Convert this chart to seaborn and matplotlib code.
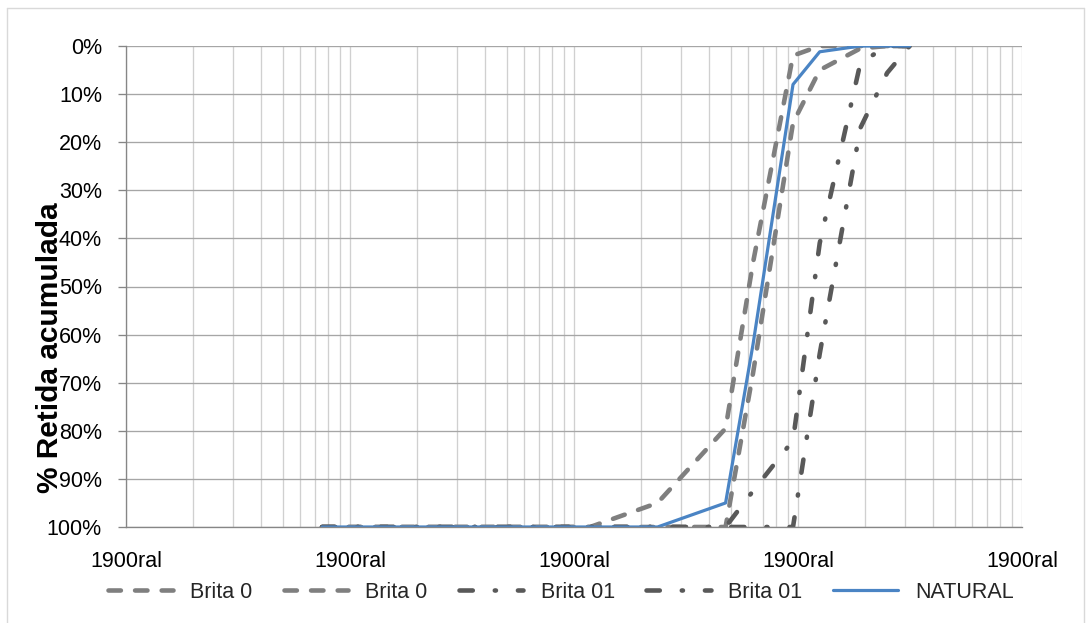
import matplotlib
matplotlib.use('Agg')
import matplotlib.pyplot as plt
import seaborn as sns
from matplotlib.lines import Line2D
from matplotlib.ticker import LogLocator, NullFormatter

# abertura das peneiras (mm)
sieves = [0.075, 0.15, 0.3, 0.6, 1.18, 2.36, 4.75, 6.3, 9.5, 12.5, 19, 25, 31.5]

# % retida acumulada
brita0_a = [100, 100, 100, 100, 100, 95, 79.5, 45, 2, 0, 0, 0, 0]
brita0_b = [100, 100, 100, 100, 100, 100, 100, 68, 16, 5, 0.5, 0, 0]
brita01_a = [100, 100, 100, 100, 100, 100, 100, 92.5, 82, 41, 3.5, 0, 0]
brita01_b = [100, 100, 100, 100, 100, 100, 100, 100, 100, 64, 17, 5.6, 0]
natural = [100, 100, 100, 100, 100, 100, 95, 62, 8, 1.2, 0, 0, 0]

names = ["Brita 0", "Brita 0", "Brita 01", "Brita 01", "NATURAL"]
x_ticks = [0.01, 0.1, 1, 10, 100]
x_tick_labels = ["1900ral"] * 5
y_ticks = list(range(0, 101, 10))
y_tick_labels = [f"{v}%" for v in y_ticks]

sns.set_theme(style="white")
plt.rcParams['font.family'] = ['Liberation Sans', 'DejaVu Sans']

W, H = 1091, 623
fig = plt.figure(figsize=(W / 100, H / 100), dpi=100)
ax = fig.add_axes([126 / W, 1 - 527 / H, 896 / W, 481 / H])

light, dark, blue = '#7f7f7f', '#595959', '#4a84c4'
long_dash = (0, (2.7, 3.1))
dash_dot = (0, (2.9, 4.8, 0.25, 4.8))

styles = [
    (brita0_a, light, 3.3, long_dash),
    (brita0_b, light, 3.3, long_dash),
    (brita01_a, dark, 3.3, dash_dot),
    (brita01_b, dark, 3.3, dash_dot),
    (natural, blue, 2.3, '-'),
]
for vals, color, lw, ls in styles:
    sns.lineplot(x=sieves, y=vals, ax=ax, color=color, linewidth=lw,
                 linestyle=ls, dash_capstyle='round', solid_capstyle='round',
                 legend=False)

ax.set_xscale('log')
ax.set_xlim(0.01, 100)
ax.set_ylim(100, 0)
ax.set_xticks(x_ticks, labels=x_tick_labels)
ax.xaxis.set_minor_locator(LogLocator(base=10, subs=range(2, 10)))
ax.xaxis.set_minor_formatter(NullFormatter())
ax.set_yticks(y_ticks, labels=y_tick_labels)

ax.set_axisbelow(True)
ax.grid(which='major', axis='y', color='#a6a6a6', lw=0.95)
ax.grid(which='both', axis='x', color='#d0d0d0', lw=0.95)

ax.tick_params(axis='y', which='major', left=True, length=5.8, width=0.95,
               color='#868686', direction='out', pad=11.5, labelsize=15.5,
               labelcolor='black')
ax.tick_params(axis='x', which='both', bottom=False, length=0, pad=17,
               labelsize=15.5, labelcolor='black')

for s in ['top', 'right']:
    ax.spines[s].set_visible(False)
for s in ['left', 'bottom']:
    ax.spines[s].set_color('#868686')
    ax.spines[s].set_linewidth(0.95)

ax.set_xlabel('')
ax.set_ylabel('% Retida acumulada', fontsize=21.5, fontweight='bold',
              color='black', va='center')
ax.yaxis.set_label_coords(-0.0848, 0.372)

fig.legend(ax.lines[:5], names, loc='center', ncol=5, frameon=False,
           bbox_to_anchor=(561 / W, 1 - 592 / H), fontsize=15.5,
           handlelength=3.0, handletextpad=0.8, columnspacing=1.45)

# moldura do grafico
for xs, ys in [([7, 7], [8, 623]), ([7, 1084], [8, 8]), ([1084, 1084], [8, 623])]:
    fig.add_artist(Line2D([x / W for x in xs], [1 - y / H for y in ys],
                          color='#d9d9d9', lw=1, transform=fig.transFigure))

fig.savefig('out.png', dpi=100)
